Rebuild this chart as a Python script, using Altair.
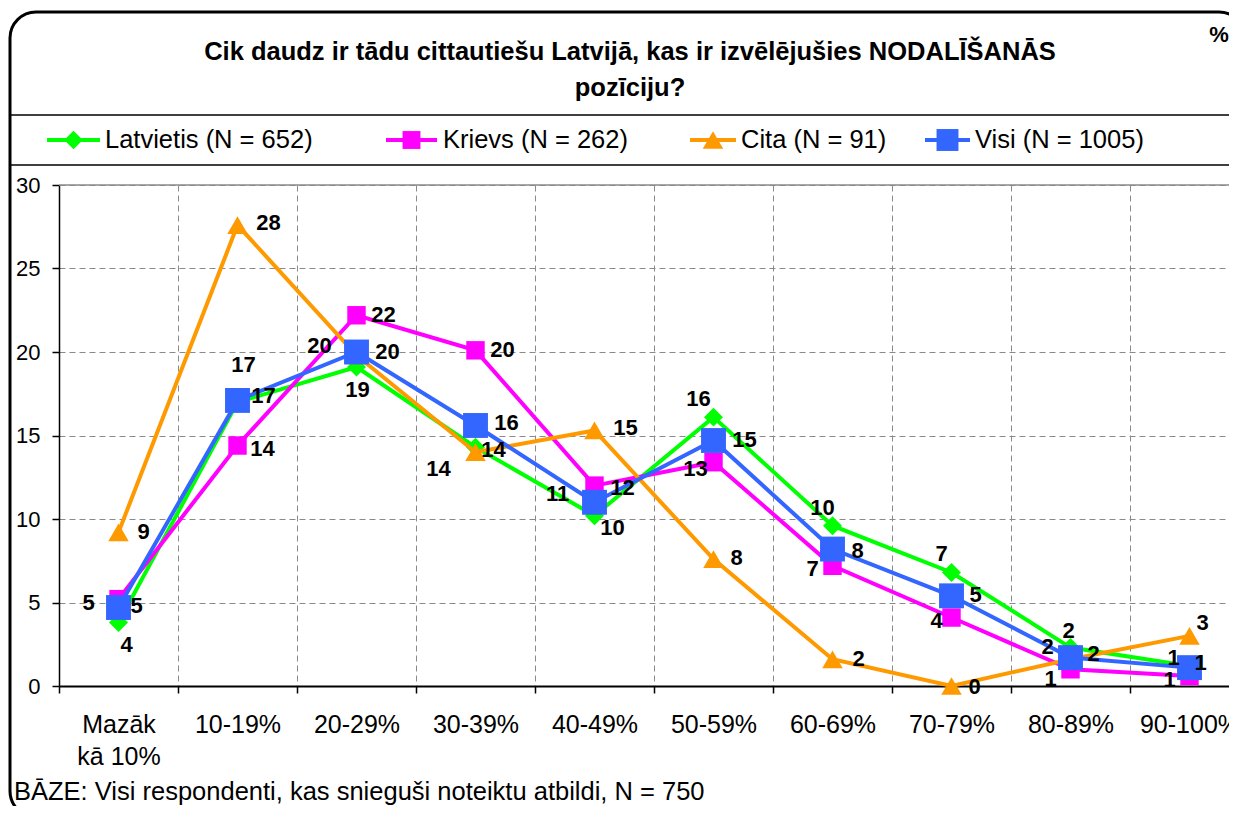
import altair as alt
import pandas as pd

# ---------------- data ----------------
categories = ["Mazāk kā 10%", "10-19%", "20-29%", "30-39%", "40-49%",
              "50-59%", "60-69%", "70-79%", "80-89%", "90-100%"]

series_names = ["Latvietis (N = 652)", "Krievs (N = 262)", "Cita (N = 91)", "Visi (N = 1005)"]

latvietis = [3.8, 17.0, 19.1, 14.3, 10.2, 16.1, 9.6, 6.8, 2.3, 1.2]
krievs = [5.2, 14.4, 22.2, 20.1, 12.0, 13.4, 7.2, 4.1, 1.0, 0.6]
cita = [9.2, 27.6, 19.8, 14.0, 15.3, 7.6, 1.6, 0.0, 1.6, 3.0]
visi = [4.7, 17.1, 20.0, 15.6, 11.0, 14.7, 8.2, 5.4, 1.7, 1.1]

# label placement (pixel offsets from each point), kept apart from the values
lat_dx = [8, 6, 1, -37, 18, -15, -10, -10, -2, -16]
lat_dy = [22, -37, 23, 22, 12, -18, -18, -18, -17, -8]
kri_dx = [-30, 25, 27, 27, 28, -18, -20, -15, -20, -20]
kri_dy = [4, 3, 0, 0, 2, 7, 3, 3, 10, 4]
cit_dx = [25, 31, -37, 18, 31, 23, 26, 23, -23, 13]
cit_dy = [0, -2, -9, -2, -2, -1, 0, 1, -12, -13]
vis_dx = [18, 26, 31, 31, -37, 31, 25, 24, 23, 11]
vis_dy = [-2, -4, 0, -2, -8, -1, 2, -1, -4, -5]

title_line1 = "Cik daudz ir tādu cittautiešu Latvijā, kas ir izvēlējušies NODALĪŠANĀS"
title_line2 = "pozīciju?"
footer_text = "BĀZE: Visi respondenti, kas snieguši noteiktu atbildi, N = 750"

# ---------------- styles ----------------
FONT = "Liberation Sans"
colors = ["#00FF00", "#FF00FF", "#FF9900", "#3366FF"]
shapes = ["diamond", "square", "triangle-up", "square"]
sizes = [360, 340, 420, 620]
leg_sizes = [340, 320, 420, 480]

values_list = [latvietis, krievs, cita, visi]
dx_list = [lat_dx, kri_dx, cit_dx, vis_dx]
dy_list = [lat_dy, kri_dy, cit_dy, vis_dy]

rows = []
for s, vals, dxs, dys in zip(series_names, values_list, dx_list, dy_list):
    for c, v, dx, dy in zip(categories, vals, dxs, dys):
        rows.append({"series": s, "category": c, "value": v, "dx": dx, "dy": dy})
df = pd.DataFrame(rows)

PLOT_W = 1170
PLOT_H = 501
Y_MAX = 30
BAND_RANGE = 1190
HALF_BAND = BAND_RANGE / len(categories) / 2
PX_PER_UNIT = PLOT_H / Y_MAX
GRID = "#8a8a8a"

x_enc = alt.X(
    "category:N",
    sort=categories,
    scale=alt.Scale(type="band", domain=categories, range=[0, BAND_RANGE],
                    paddingInner=0, paddingOuter=0),
    axis=alt.Axis(
        title=None, labelAngle=0, tickBand="extent", grid=True,
        gridDash=[6, 4], gridColor=GRID, gridWidth=1,
        domainColor="black", domainWidth=2, tickColor="black", tickSize=7,
        tickWidth=1.5, labelFont=FONT, labelFontSize=25, labelColor="black",
        labelPadding=19, labelLineHeight=32, labelOverlap=False, labelFlush=False,
        labelExpr="datum.label == 'Mazāk kā 10%' ? ['Mazāk', 'kā 10%'] : datum.label",
    ),
)
y_scale = alt.Scale(domain=[0, Y_MAX], nice=False, zero=True)
y_enc = alt.Y(
    "value:Q",
    scale=y_scale,
    axis=alt.Axis(
        title=None, values=[0, 5, 10, 15, 20, 25, 30], grid=True,
        gridDash=[6, 4], gridColor=GRID, gridWidth=1,
        domainColor="black", domainWidth=1.5, tickColor="black", tickSize=7,
        tickWidth=1.5, labelFont=FONT, labelFontSize=22, labelColor="black",
        labelPadding=12,
    ),
)

base = alt.Chart(df)
one = alt.Chart(pd.DataFrame({"k": [0]}))

layers = []

# outer rounded frame
layers.append(one.mark_rect(filled=False, stroke="black", strokeWidth=3, cornerRadius=26).encode(
    x=alt.value(-49), x2=alt.value(1186), y=alt.value(-173), y2=alt.value(632)))
# separators
layers.append(one.mark_rule(color="black", strokeWidth=1.5).encode(
    x=alt.value(-49), x2=alt.value(1190), y=alt.value(-70)))
layers.append(one.mark_rule(color="black", strokeWidth=1.5).encode(
    x=alt.value(-49), x2=alt.value(1190), y=alt.value(-20)))

# title
layers.append(one.mark_text(font=FONT, fontSize=25.5, fontWeight="bold", align="center",
                            baseline="middle", color="black").encode(
    x=alt.value(571), y=alt.value(-133), text=alt.value(title_line1)))
layers.append(one.mark_text(font=FONT, fontSize=25.5, fontWeight="bold", align="center",
                            baseline="middle", color="black").encode(
    x=alt.value(571), y=alt.value(-97), text=alt.value(title_line2)))
layers.append(one.mark_text(font=FONT, fontSize=22, fontWeight="bold", align="center",
                            baseline="middle", color="black").encode(
    x=alt.value(1160), y=alt.value(-150), text=alt.value("%")))

# legend
leg_line_x = [(-12, 41), (327, 378), (631, 677), (866, 911)]
leg_text_x = [46, 384, 682, 916]
for i in range(4):
    x1, x2 = leg_line_x[i]
    layers.append(one.mark_rule(color=colors[i], strokeWidth=4).encode(
        x=alt.value(x1), x2=alt.value(x2), y=alt.value(-45)))
    layers.append(one.mark_point(shape=shapes[i], size=leg_sizes[i], filled=True,
                                 color=colors[i], opacity=1).encode(
        x=alt.value((x1 + x2) / 2), y=alt.value(-45)))
    layers.append(one.mark_text(font=FONT, fontSize=25.5, align="left", baseline="middle",
                                color="black").encode(
        x=alt.value(leg_text_x[i]), y=alt.value(-45), text=alt.value(series_names[i])))

# footer
layers.append(one.mark_text(font=FONT, fontSize=25.5, align="left", baseline="middle",
                            color="black").encode(
    x=alt.value(-45), y=alt.value(607), text=alt.value(footer_text)))

# top border of plot
layers.append(alt.Chart(pd.DataFrame({"v": [Y_MAX]})).mark_rule(color=GRID, strokeWidth=1.5).encode(
    y=alt.Y("v:Q", scale=y_scale),
    x=alt.value(0), x2=alt.value(BAND_RANGE)))

# series
for i, s in enumerate(series_names):
    sub = base.transform_filter(alt.datum.series == s)
    layers.append(sub.mark_line(color=colors[i], strokeWidth=4).encode(x=x_enc, y=y_enc))
    layers.append(sub.mark_point(shape=shapes[i], size=sizes[i], filled=True,
                                 color=colors[i], opacity=1).encode(x=x_enc, y=y_enc))

# data labels (placed next to their point; pixel offsets turned into scale units)
layers.append(base.transform_calculate(
    dxc=f"datum.dx + {HALF_BAND}",
    ly=f"datum.value - datum.dy / {PX_PER_UNIT}",
).mark_text(
    font=FONT, fontSize=22, fontWeight="bold", align="center",
    baseline="middle", color="black").encode(
    x=x_enc,
    y=alt.Y("ly:Q", scale=y_scale),
    xOffset=alt.XOffset("dxc:Q", scale=None),
    text=alt.Text("value:Q", format=".0f")))

chart = alt.layer(*layers).properties(
    width=PLOT_W, height=PLOT_H,
    autosize=alt.AutoSizeParams(type="none"),
    padding={"left": 51, "top": 177, "right": 0, "bottom": 120},
    background="white",
).configure_view(stroke=None)

chart.save("out.html", embed_options={"renderer": "svg", "actions": False})
